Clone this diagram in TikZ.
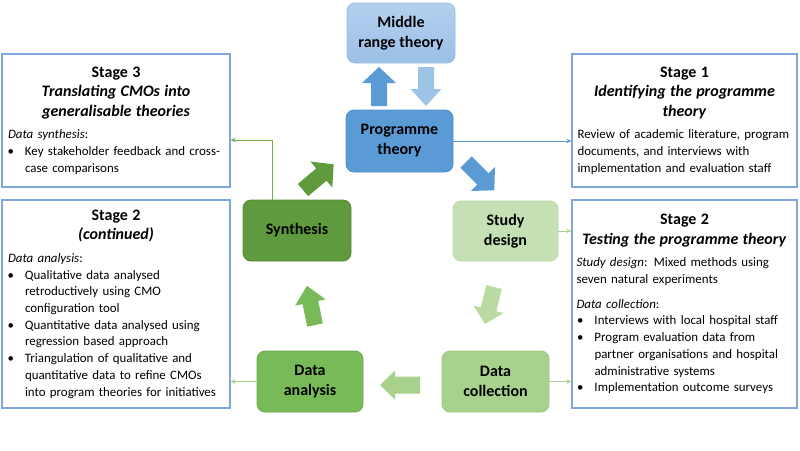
\documentclass[tikz,border=0pt]{standalone}
\usepackage{fontspec}
\setmainfont{Carlito}
\usetikzlibrary{arrows.meta}
\setlength{\parindent}{0pt}
\hyphenpenalty=10000
\definecolor{stageblue}{HTML}{7FA7DB}
\definecolor{mrtfillA}{HTML}{B4D0EE}
\definecolor{mrtfillB}{HTML}{9CBFE6}
\definecolor{mrtdraw}{HTML}{9ABDE5}
\definecolor{ptblue}{HTML}{5B9BD5}
\definecolor{ptdraw}{HTML}{4F8DCB}
\definecolor{mrtarrow}{HTML}{9DC3E6}
\definecolor{synthg}{HTML}{5F9B3E}
\definecolor{synthdraw}{HTML}{538A35}
\definecolor{analg}{HTML}{78BA58}
\definecolor{analdraw}{HTML}{6DAA4F}
\definecolor{collg}{HTML}{A9D18E}
\definecolor{colldraw}{HTML}{9CC77F}
\definecolor{studyg}{HTML}{C5E0B4}
\definecolor{studydraw}{HTML}{B8D8A4}
\definecolor{studyarrow}{HTML}{B9DAA1}
\definecolor{linkgreen}{HTML}{70AD47}
\definecolor{lightlink}{HTML}{A9D18E}
\newcommand\sthead[2]{{\centering\fontsize{16}{19.5}\selectfont\textbf{#1}\\\textbf{\textit{#2}}\par}}
\newcommand\bodystart{\par\vspace{6pt}\raggedright\noindent}
\newcommand\bitem[1]{\par\hangindent=19pt\hangafter=1\noindent\makebox[19pt][l]{\hspace{1.5pt}\textbullet}#1\par}
\newcommand\blockarrow[8]{%
  \begin{scope}[shift={(#1,#2)}, rotate=#3]
    \fill[#8] (0,-#5/2) -- (#4-#7,-#5/2) -- (#4-#7,-#6/2) -- (#4,0) -- (#4-#7,#6/2) -- (#4-#7,#5/2) -- (0,#5/2) -- cycle;
  \end{scope}}
\tikzset{
  stagebox/.style={draw=stageblue, line width=1.2pt, rectangle, inner xsep=3pt, inner ysep=2pt,
    font=\fontsize{12.9}{16.7}\selectfont},
  cbox/.style={rounded corners=8pt, align=center, line width=0.8pt,
    font=\bfseries\fontsize{16}{20}\selectfont, inner sep=2pt},
  link/.style={line width=0.9pt, -{Stealth[length=5pt,width=4.5pt]}},
}
\begin{document}
\begin{tikzpicture}[x=1pt,y=-1pt]
\useasboundingbox (0,0) rectangle (800,450);

% central boxes
\node[cbox, top color=mrtfillA, bottom color=mrtfillB, draw=mrtdraw, minimum width=108pt, minimum height=60pt] (mrt) at (401,33) {Middle\\range theory};
\node[cbox, fill=ptblue, draw=ptdraw, minimum width=107pt, minimum height=62pt] (pt) at (399.5,141) {Programme\\theory};
\node[cbox, fill=synthg, draw=synthdraw, minimum width=108pt, minimum height=61pt] (syn) at (297,230.5) {Synthesis};
\node[cbox, fill=studyg, draw=studydraw, minimum width=105pt, minimum height=60pt] (sd) at (505.5,231) {Study\\design};
\node[cbox, fill=collg, draw=colldraw, minimum width=107pt, minimum height=61pt] (dc) at (495.5,381.5) {Data\\collection};
\node[cbox, fill=analg, draw=analdraw, minimum width=106pt, minimum height=61pt] (da) at (310,381.5) {Data\\analysis};

% stage panels
\node[stagebox, minimum width=228pt, minimum height=133pt, text width=220pt] (s3) at (116,120.5)
{\sthead{Stage 3}{Translating CMOs into\\generalisable theories}\bodystart
\hspace*{2pt}\textit{Data synthesis}:
\bitem{Key stakeholder feedback and cross-\newline case comparisons}};

\node[stagebox, minimum width=225pt, minimum height=133pt, text width=218pt] (s1) at (684.5,120.5)
{\sthead{Stage 1}{Identifying the programme\\theory}\bodystart
\hspace*{2pt}Review of academic literature, program\newline
\hspace*{2pt}documents, and interviews with\newline
\hspace*{2pt}implementation and evaluation staff\par};

\node[stagebox, minimum width=228pt, minimum height=208pt, text width=220pt] (s2c) at (116,304)
{\sthead{Stage 2}{(continued)}\bodystart
\hspace*{2pt}\textit{Data analysis}:
\bitem{Qualitative data analysed\newline retroductively using CMO\newline configuration tool}
\bitem{Quantitative data analysed using\newline regression based approach}
\bitem{Triangulation of qualitative and\newline quantitative data to refine CMOs\newline into program theories for initiatives}};

\node[stagebox, minimum width=225pt, minimum height=208pt, text width=218pt] (s2) at (684.5,304)
{\sthead{Stage 2}{Testing the programme theory}\bodystart
\hspace*{1pt}\textit{Study design}: Mixed methods using\newline
\hspace*{1pt}seven natural experiments\par\vspace{8pt}
\hspace*{1pt}\textit{Data collection}:
\bitem{Interviews with local hospital staff}
\bitem{Program evaluation data from\newline partner organisations and hospital\newline administrative systems}
\bitem{Implementation outcome surveys}};

% block arrows
\blockarrow{379}{106}{90}{39}{16}{34}{16}{ptblue}
\blockarrow{426}{67}{-90}{39}{16}{31}{17}{mrtarrow}
\blockarrow{303}{190}{40}{40}{16}{34}{16}{synthg}
\blockarrow{466}{162}{-45}{40}{16}{34}{16}{ptblue}
\blockarrow{494}{287}{-103.7}{38}{16}{31}{15}{studyarrow}
\blockarrow{420}{385}{180}{40}{17}{29}{15}{collg}
\blockarrow{315}{325}{101.6}{40}{16}{31}{17}{analg}

% connectors
\draw[link, draw=ptblue] (pt.east) -- (s1.west |- pt.east);
\draw[link, draw=lightlink] (sd.east) -- (s2.west |- sd.east);
\draw[link, draw=lightlink] (dc.east) -- (s2.west |- dc.east);
\draw[link, draw=lightlink] (da.west) -- (s2c.east |- da.west);
\coordinate (k1) at (272,140);
\draw[link, draw=linkgreen] (syn.north -| k1) -- (k1) -- (s3.east |- k1);
\end{tikzpicture}
\end{document}
